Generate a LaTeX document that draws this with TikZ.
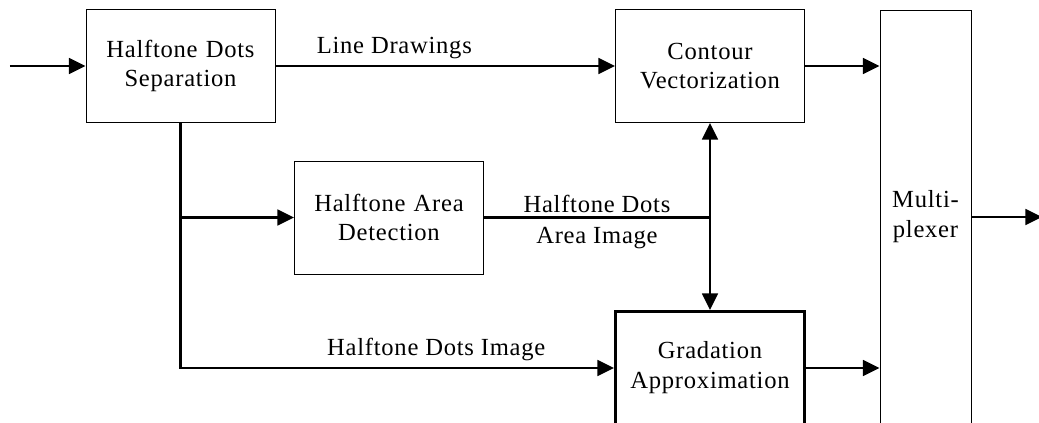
\documentclass[tikz,border=0pt]{standalone}
\usepackage{fontspec}
\setmainfont{Liberation Serif}[LetterSpace=3]
\usepackage{tikz}
\usetikzlibrary{shapes,arrows,arrows.meta}
\tikzstyle{block} = [rectangle, draw, line width=0.5pt, text width=3.5cm,
    text centered, minimum width=3.78cm, minimum height=2.26cm, inner sep=0pt]
\tikzstyle{boldblock} = [block, line width=1.7pt]
\tikzstyle{muxblock} = [rectangle, draw, line width=0.5pt, align=center,
    minimum width=1.82cm, minimum height=8.28cm]
\tikzstyle{arrow} = [draw, line width=1.3pt, ->]
\tikzstyle{line} = [draw, line width=1.3pt]

\begin{document}
\begin{tikzpicture}[node distance = 10.59cm, auto, >={Triangle[length=9.5pt,width=9pt]},
    every node/.style={font=\fontsize{14}{17}\selectfont}]
    \useasboundingbox (0,0) rectangle (20.78,-8.46);
    \clip (0,0) rectangle (20.78,-8.46);
    \node[block] (separation) at (3.61,-1.32) {Halftone Dots\\Separation};
    \node[block, right of=separation] (contour) {Contour\\Vectorization};
    \node[block] (area) at (7.78,-4.35) {Halftone Area\\Detection};
    \node[boldblock, below of=contour, node distance=6.04cm] (gradation) {Gradation\\Approximation};
    \node[muxblock] (mux) at (18.51,-4.34) {Multi-\\plexer};
    \coordinate (input) at (0.2,-1.32);
    \coordinate (output) at (20.84,-4.34);

    \draw [arrow] (input) -- (separation);
    \draw [arrow] (separation) -- node[pos=0.35] {Line Drawings} (contour);
    \draw [arrow] (separation.south) |- (area.west);
    \draw [arrow] (separation.south) |- node[pos=0.795] {Halftone Dots Image} (gradation.west);
    \draw [line] (area) -- node[above, inner sep=2pt] {Halftone Dots}
        node[below, inner sep=5pt] {Area Image} (contour.south |- area.east);
    \draw [arrow, <->] (contour) -- (gradation);
    \draw [arrow] (contour) -- (contour -| mux.west);
    \draw [arrow] (gradation) -- (gradation -| mux.west);
    \draw [arrow] (mux) -- (output);
\end{tikzpicture}
\end{document}
